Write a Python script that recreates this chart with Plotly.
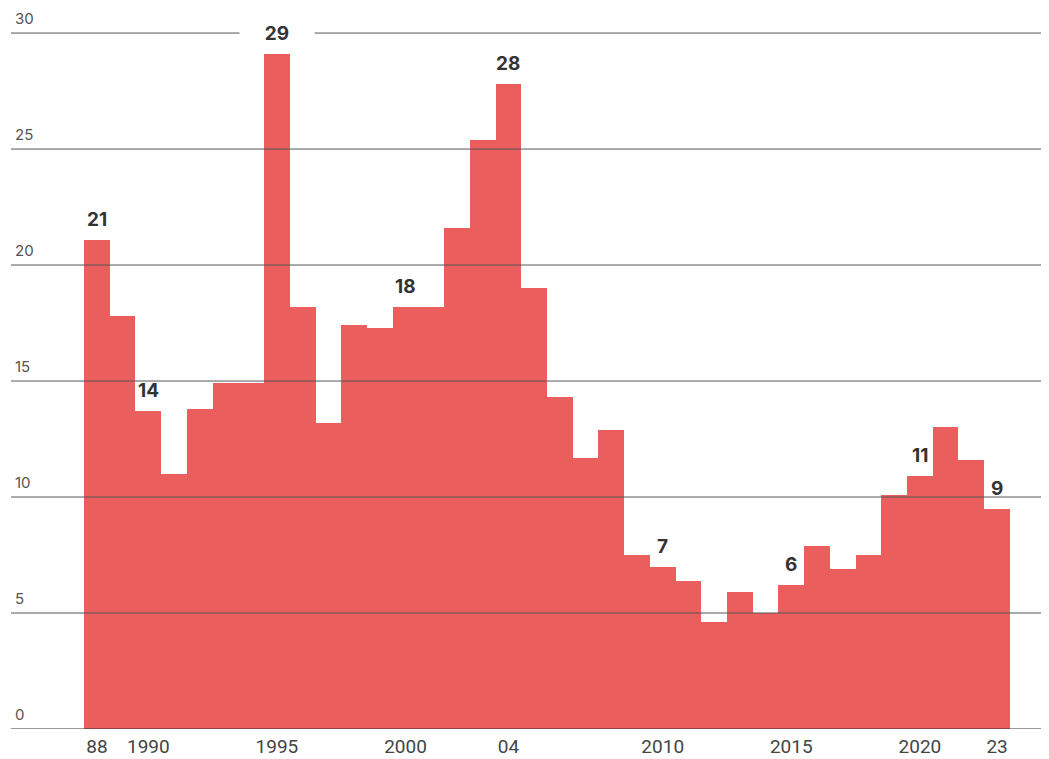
import plotly.graph_objects as go

years = list(range(1988, 2024))
values = [21.1, 17.8, 13.7, 11.0, 13.8, 14.9, 14.9, 29.1, 18.2, 13.2,
          17.4, 17.3, 18.2, 18.2, 21.6, 25.4, 27.8, 19.0, 14.3, 11.7,
          12.9, 7.5, 7.0, 6.4, 4.6, 5.9, 5.0, 6.2, 7.9, 6.9,
          7.5, 10.1, 10.9, 13.0, 11.6, 9.5]

label_years = [1988, 1990, 1995, 2000, 2004, 2010, 2015, 2020, 2023]
label_texts = ["21", "14", "29", "18", "28", "7", "6", "11", "9"]

x_tickvals = [1988, 1990, 1995, 2000, 2004, 2010, 2015, 2020, 2023]
x_ticktext = ["88", "1990", "1995", "2000", "04", "2010", "2015", "2020", "23"]
y_tickvals = [0, 5, 10, 15, 20, 25, 30]

BAR_COLOR = "#EB5E5E"
GRID_COLOR = "#555555"

fig = go.Figure()
fig.add_trace(go.Bar(x=years, y=values, marker=dict(color=BAR_COLOR, line=dict(width=0)),
                     hoverinfo="x+y"))

# gridlines drawn above the bars
for v in y_tickvals:
    fig.add_shape(type="line", xref="paper", x0=0, x1=1, yref="y", y0=v, y1=v,
                  line=dict(color="#333333" if v == 0 else GRID_COLOR, width=1),
                  layer="above")

val_by_year = dict(zip(years, values))
for yr, txt in zip(label_years, label_texts):
    is_top = yr == 1995
    fig.add_annotation(x=yr, y=val_by_year[yr], text="<b>%s</b>" % txt,
                       showarrow=False, yanchor="bottom", yshift=8,
                       font=dict(family="Inter, Roboto, sans-serif", size=19, color="#333333"),
                       bgcolor="white" if is_top else "rgba(0,0,0,0)",
                       width=74 if is_top else None, borderpad=0)

fig.update_layout(
    width=1041, height=751,
    margin=dict(l=3, r=0, t=0, b=30, pad=0, autoexpand=False),
    plot_bgcolor="white", paper_bgcolor="white",
    bargap=0, showlegend=False,
    xaxis=dict(range=[1984.66, 2025.02], tickvals=x_tickvals, ticktext=x_ticktext,
               showgrid=False, zeroline=False, showline=False, ticks="",
               automargin=False, ticklabelstandoff=4,
               tickfont=dict(family="Roboto, sans-serif", size=19, color="#444444")),
    yaxis=dict(range=[0, 31.08], tickvals=y_tickvals, showgrid=False, zeroline=False,
               showline=False, ticks="", ticklabelposition="inside top",
               automargin=False,
               ticklabeloverflow="allow", ticklabelstandoff=1, ticklabelshift=-4,
               tickfont=dict(family="Inter, Roboto, sans-serif", size=15, color="#555555")),
)

fig.write_html("out.html")
